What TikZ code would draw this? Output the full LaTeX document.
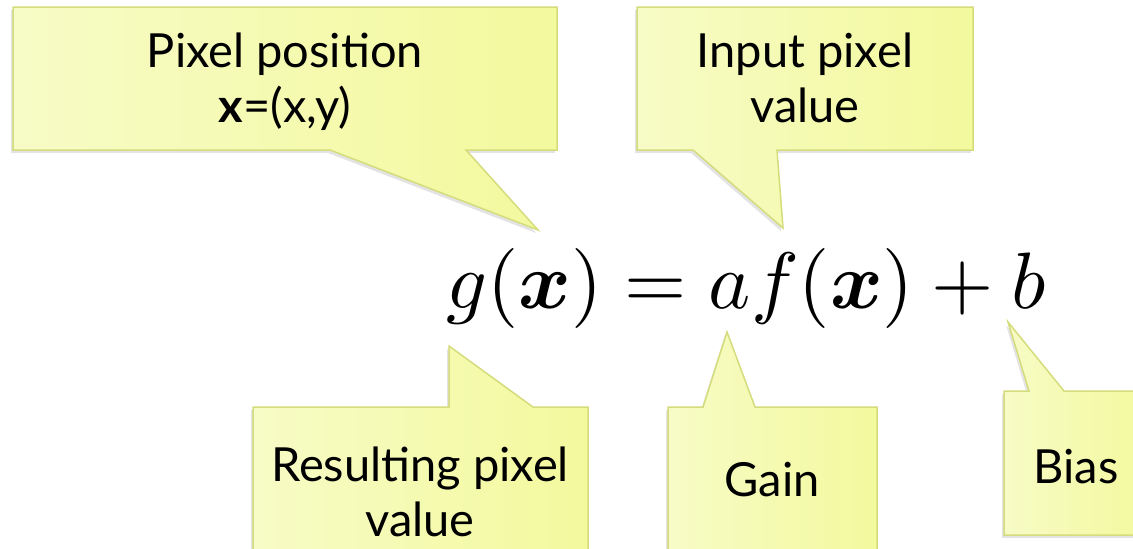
\documentclass[tikz,border=0pt]{standalone}
\usepackage{amsmath,bm}
\usepackage{graphicx}
\usepackage{fontspec}
\setsansfont{Lato}
\usetikzlibrary{shadows}

\definecolor{callfill}{HTML}{F3F99D}
\definecolor{callfilllight}{HTML}{F7FBC6}
\definecolor{callline}{HTML}{D4DC7C}

\begin{document}
\begin{tikzpicture}[
      x=1pt, y=-1pt, % Pixelkoordinaten
      callout/.style={draw=callline, line width=1.5pt, left color=callfilllight,
        right color=callfill,
        drop shadow={opacity=0.22, shadow xshift=-2pt, shadow yshift=-3pt}}, % Sprechblase
      calltext/.style={font=\sffamily\fontsize{47}{55}\selectfont, align=center,
        inner sep=0pt, anchor=north}, % Text in der Blase
    ]
    \clip (0,0) rectangle (1133,549);

    % Blasen oben (Spitze nach unten)
    \foreach \l/\r/\pa/\pb/\tx/\ty in {13/557/330/466/538/230, 637/973/693/777/783/228}
    \path[callout] (\l,7) -- (\r,7) -- (\r,150) -- (\pb,150) -- (\tx,\ty)
      -- (\pa,150) -- (\l,150) -- cycle;

    % Blasen unten (Spitze nach oben)
    \foreach \l/\t/\r/\b/\pa/\pb/\tx/\ty in {253/407/588/575/449/533/449/346,
      668/407/877/575/703/755/727/332, 1004/391/1148/535/1029/1064/1008/322}
    \path[callout] (\l,\t) -- (\pa,\t) -- (\tx,\ty) -- (\pb,\t) -- (\r,\t)
      -- (\r,\b) -- (\l,\b) -- cycle;

    % Gleichung
    \node[anchor=base west, inner sep=0pt] (eq)
      at (446,308) {\scalebox{8}{$g(\bm{x}) = af(\bm{x}) + b$}};

    % Beschriftungen
    \node[calltext] (pos) at (285,33) {Pixel position\\\textbf{x}=(x,y)};
    \node[calltext] (inp) at (805,33) {Input pixel\\value};
    \node[calltext] (res) at (420,447) {Resulting pixel\\value};
    \node[calltext] (gain) at (772,462) {Gain};
    \node[calltext] (bias) at (1076,449) {Bias};
  \end{tikzpicture}
\end{document}
